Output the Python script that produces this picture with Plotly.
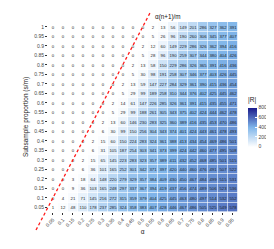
import plotly.graph_objects as go

alpha = [0.05, 0.1, 0.15, 0.2, 0.25, 0.3, 0.35, 0.4, 0.45, 0.5,
         0.55, 0.6, 0.65, 0.7, 0.75, 0.8, 0.85, 0.9, 0.95]
alpha_labels = ["0.05", "0.1", "0.15", "0.2", "0.25", "0.3", "0.35", "0.4", "0.45", "0.5",
                "0.55", "0.6", "0.65", "0.7", "0.75", "0.8", "0.85", "0.9", "0.95"]
prop = [1.0, 0.95, 0.9, 0.85, 0.8, 0.75, 0.7, 0.65, 0.6, 0.55,
        0.5, 0.45, 0.4, 0.35, 0.3, 0.25, 0.2, 0.15, 0.1, 0.05]
prop_labels = ["1", "0.95", "0.9", "0.85", "0.8", "0.75", "0.7", "0.65", "0.6", "0.55",
               "0.5", "0.45", "0.4", "0.35", "0.3", "0.25", "0.2", "0.15", "0.1", "0.05"]

# |R| counts; rows follow `prop` (top to bottom), columns follow `alpha`
R_counts = [
    [0, 0, 0, 0, 0, 0, 0, 0, 0, 0, 2, 13, 56, 149, 201, 286, 327, 362, 391],
    [0, 0, 0, 0, 0, 0, 0, 0, 0, 0, 5, 26, 96, 190, 260, 306, 345, 377, 407],
    [0, 0, 0, 0, 0, 0, 0, 0, 0, 2, 12, 60, 149, 229, 286, 326, 362, 394, 416],
    [0, 0, 0, 0, 0, 0, 0, 0, 0, 5, 28, 96, 190, 259, 307, 344, 380, 404, 426],
    [0, 0, 0, 0, 0, 0, 0, 0, 2, 13, 58, 150, 229, 286, 326, 365, 391, 416, 436],
    [0, 0, 0, 0, 0, 0, 0, 0, 5, 30, 98, 191, 258, 307, 346, 377, 403, 426, 445],
    [0, 0, 0, 0, 0, 0, 0, 2, 13, 59, 147, 227, 284, 329, 361, 390, 415, 436, 454],
    [0, 0, 0, 0, 0, 0, 0, 5, 29, 99, 189, 258, 310, 344, 376, 402, 425, 445, 462],
    [0, 0, 0, 0, 0, 0, 2, 14, 61, 147, 226, 285, 326, 361, 391, 415, 435, 455, 471],
    [0, 0, 0, 0, 0, 0, 5, 29, 99, 188, 261, 305, 343, 375, 402, 424, 444, 462, 478],
    [0, 0, 0, 0, 0, 2, 13, 60, 146, 230, 283, 325, 360, 389, 416, 435, 453, 470, 486],
    [0, 0, 0, 0, 0, 6, 30, 99, 150, 256, 304, 343, 374, 401, 424, 443, 461, 478, 493],
    [0, 0, 0, 0, 2, 15, 60, 150, 224, 283, 324, 361, 388, 413, 434, 454, 469, 486, 501],
    [0, 0, 0, 0, 6, 31, 105, 187, 254, 303, 341, 373, 399, 424, 442, 460, 477, 495, 508],
    [0, 0, 0, 2, 15, 65, 145, 223, 283, 323, 357, 389, 411, 432, 452, 468, 485, 501, 515],
    [0, 0, 0, 6, 36, 101, 165, 252, 301, 342, 371, 397, 420, 440, 460, 476, 491, 507, 522],
    [0, 0, 3, 18, 64, 148, 220, 279, 329, 357, 384, 409, 430, 450, 467, 484, 499, 515, 531],
    [0, 0, 9, 36, 103, 165, 248, 297, 337, 367, 394, 419, 437, 456, 474, 489, 506, 523, 536],
    [0, 4, 21, 71, 145, 216, 272, 315, 359, 379, 404, 425, 445, 463, 480, 497, 514, 532, 552],
    [1, 12, 48, 110, 178, 237, 285, 324, 358, 383, 407, 428, 446, 467, 486, 505, 525, 549, 578],
]

zmax = 800
cbar_ticks = [0, 200, 400, 600, 800]
line_slope = 2.0          # s/m = 2 * alpha  (alpha(n+1)/m reference line)
line_y_ends = [-0.07, 1.075]
line_label = "α(n+1)/m"

FONT = "Liberation Sans, Arial, sans-serif"

W, H = 274, 249
ML, MR, MT, MB = 40, 0, 14, 45
plot_right_px = 229.5
x_domain = [0.0, (plot_right_px - ML) / (W - ML - MR)]

x_range = [alpha[0] - 0.025, alpha[-1] + 0.025]
y_range = [prop[-1] - 0.025, prop[0] + 0.025]

fig = go.Figure()
fig.add_trace(go.Heatmap(
    x=alpha, y=prop, z=R_counts,
    zmin=0, zmax=zmax,
    colorscale=[[0.0, "#ffffff"], [0.5, "#80b6ea"], [1.0, "#1a1a8a"]],
    xgap=0.6, ygap=0.6,
    texttemplate="%{z}",
    textfont=dict(family=FONT, size=4.3, color="#222222"),
    hoverinfo="skip",
    colorbar=dict(
        title=dict(text="|R|", font=dict(family=FONT, size=6.5, color="#222222"), side="top"),
        thickness=9, len=52, lenmode="pixels", ypad=0, xpad=0,
        x=(240 - ML) / (W - ML - MR), xanchor="left", y=0.618, yanchor="top",
        tickvals=cbar_ticks,
        tickfont=dict(family=FONT, size=5, color="#444444"),
        outlinewidth=0, ticks="inside", ticklen=2, tickcolor="#ffffff",
    ),
))


def xp(a):
    frac = (a - x_range[0]) / (x_range[1] - x_range[0])
    return x_domain[0] + frac * (x_domain[1] - x_domain[0])


def yp(v):
    return (v - y_range[0]) / (y_range[1] - y_range[0])


x0 = line_y_ends[0] / line_slope
x1 = line_y_ends[1] / line_slope
fig.add_shape(type="line", xref="paper", yref="paper",
              x0=xp(x0), y0=yp(line_y_ends[0]), x1=xp(x1), y1=yp(line_y_ends[1]),
              line=dict(color="#ff1a1a", width=1.3, dash="3px,2.5px"), layer="above")
fig.add_annotation(xref="paper", yref="paper", x=xp(x1 + 0.012), y=yp(1.052),
                   text=line_label, showarrow=False, xanchor="left", yanchor="middle",
                   font=dict(family=FONT, size=6.3, color="#111111"))

fig.update_layout(
    width=W, height=H,
    margin=dict(l=ML, r=MR, t=MT, b=MB, pad=0),
    paper_bgcolor="white", plot_bgcolor="white",
    font=dict(family=FONT, color="#444444"),
    xaxis=dict(domain=x_domain, range=x_range, tickvals=alpha, ticktext=alpha_labels, tickangle=-45,
               showgrid=False, zeroline=False, showline=False, automargin=False,
               ticks="outside", ticklen=2, tickcolor="#333333", tickwidth=0.5,
               tickfont=dict(family=FONT, size=5, color="#444444"),
               title=dict(text="α", font=dict(family=FONT, size=6.5, color="#222222"), standoff=2)),
    yaxis=dict(range=y_range, tickvals=prop, ticktext=prop_labels,
               showgrid=False, zeroline=False, showline=False, automargin=False,
               ticks="outside", ticklen=2, tickcolor="#333333", tickwidth=0.5,
               tickfont=dict(family=FONT, size=5, color="#444444"),
               title=dict(text="Subsample proportion (s/m)",
                          font=dict(family=FONT, size=6.5, color="#222222"), standoff=4)),
)

fig.write_html("out.html")
